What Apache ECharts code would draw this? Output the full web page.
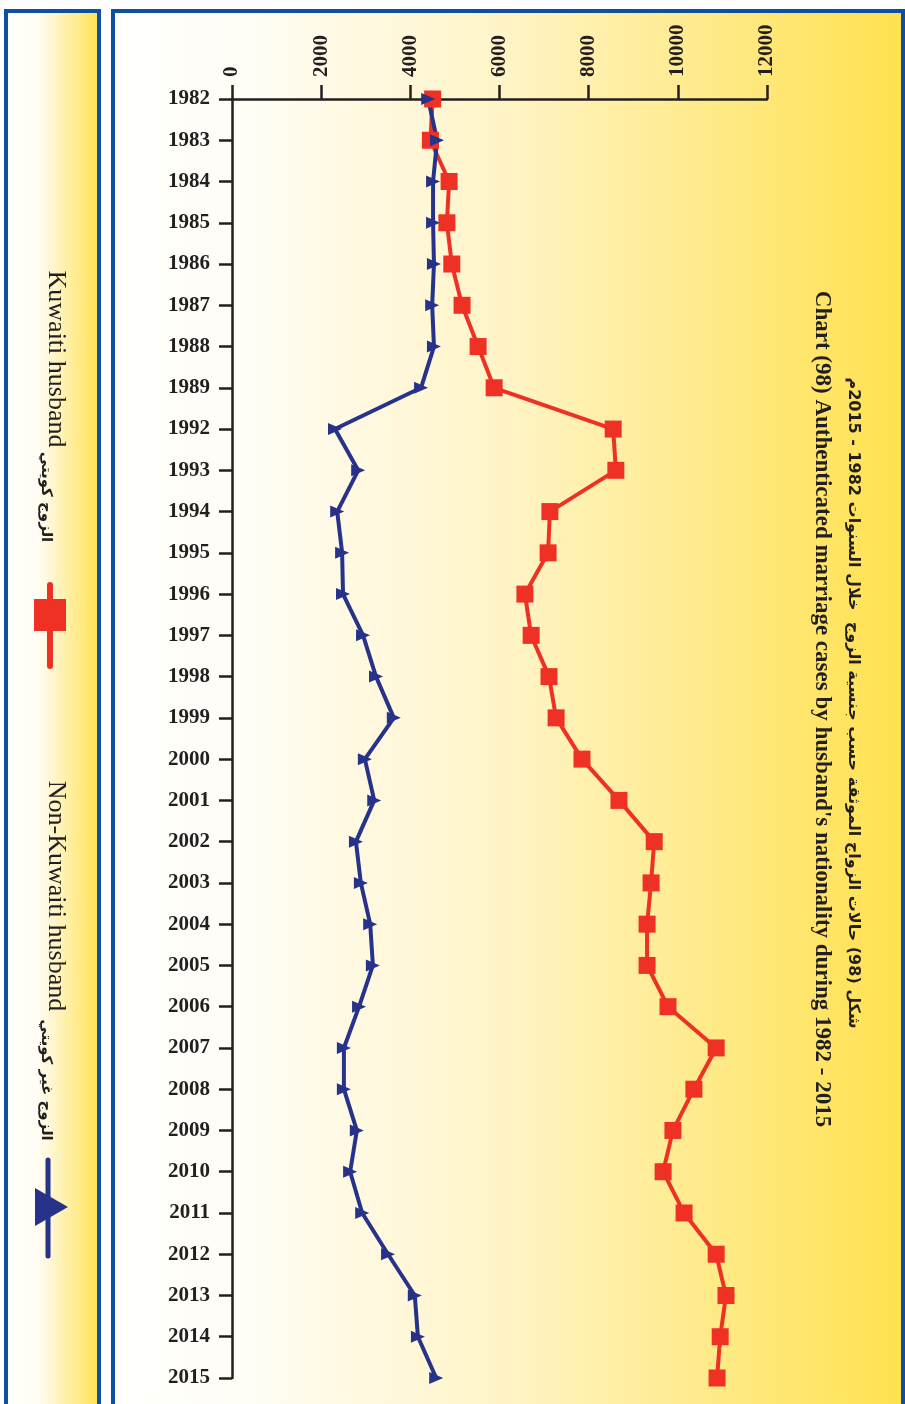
<!DOCTYPE html>
<html>
<head>
<meta charset="utf-8">
<script src="https://cdn.jsdelivr.net/npm/echarts@6/dist/echarts.min.js"></script>
<style>
  html, body { margin: 0; padding: 0; background: #fff; }
  #chart { width: 905px; height: 1404px; }
</style>
</head>
<body>
<div id="chart"></div>
<script>
// years (1990 and 1991 are missing in the source)
const years = ['1982', '1983', '1984', '1985', '1986', '1987', '1988', '1989',
  '1992', '1993', '1994', '1995', '1996', '1997', '1998', '1999', '2000',
  '2001', '2002', '2003', '2004', '2005', '2006', '2007', '2008', '2009',
  '2010', '2011', '2012', '2013', '2014', '2015'];

// Kuwaiti husband
const kuwaiti = [4500, 4450, 4870, 4820, 4930, 5160, 5520, 5880,
  8550, 8610, 7130, 7090, 6570, 6710, 7110, 7270, 7850,
  8680, 9470, 9400, 9310, 9310, 9780, 10860, 10360, 9890,
  9670, 10140, 10860, 11080, 10950, 10880];

// Non-Kuwaiti husband
const nonKuwaiti = [4400, 4600, 4510, 4510, 4530, 4490, 4530, 4240,
  2310, 2830, 2360, 2470, 2490, 2940, 3230, 3630, 2980,
  3190, 2780, 2890, 3100, 3160, 2850, 2510, 2510, 2800,
  2650, 2920, 3500, 4100, 4170, 4580];

const titleEn = "Chart (98) Authenticated marriage cases by husband's nationality during 1982 - 2015";
const titleAr = 'شكل (98) حالات الزواج الموثقة حسب جنسية الزوج  خلال السنوات 1982 - 2015م';

const RED = '#ee3124';
const NAVY = '#27338a';
const FRAME = '#0d4fa2';
const INK = '#231f20';
const SERIF = '"Liberation Serif", "DejaVu Serif", serif';

const chart = echarts.init(document.getElementById('chart'));

const yellowGrad = (stops) => new echarts.graphic.LinearGradient(0, 0, 1, 0, stops);

const option = {
  animation: false,
  backgroundColor: '#fff',
  grid: { left: 232, right: 138, top: 99, bottom: 26, outerBoundsMode: 'none' },
  xAxis: {
    type: 'value',
    position: 'top',
    min: 0,
    max: 12000,
    interval: 2000,
    axisLine: { show: true, lineStyle: { color: INK, width: 2.5 } },
    axisTick: { show: true, length: 14, lineStyle: { color: INK, width: 2.5 } },
    splitLine: { show: false },
    axisLabel: {
      rotate: -90, margin: 22, color: INK,
      fontFamily: SERIF, fontWeight: 'bold', fontSize: 21,
      formatter: (v) => String(v)
    }
  },
  yAxis: {
    type: 'category',
    data: years,
    inverse: true,
    boundaryGap: false,
    axisLine: { show: true, lineStyle: { color: INK, width: 2.5 } },
    axisTick: { show: true, length: 13, interval: 0, lineStyle: { color: INK, width: 2.5 } },
    splitLine: { show: false },
    axisLabel: {
      interval: 0, margin: 22, color: INK,
      fontFamily: SERIF, fontWeight: 'bold', fontSize: 21
    }
  },
  series: [
    {
      name: 'Kuwaiti husband',
      type: 'line',
      data: kuwaiti,
      symbol: 'rect',
      symbolSize: 17,
      showAllSymbol: true,
      lineStyle: { color: RED, width: 4 },
      itemStyle: { color: RED }
    },
    {
      name: 'Non-Kuwaiti husband',
      type: 'line',
      data: nonKuwaiti,
      symbol: 'triangle',
      symbolSize: [12, 14],
      symbolRotate: -90,
      showAllSymbol: true,
      lineStyle: { color: NAVY, width: 4 },
      itemStyle: { color: NAVY }
    }
  ],
  graphic: [
    // main panel
    {
      type: 'rect', z: -10, silent: true,
      shape: { x: 113, y: 11, width: 790, height: 1420 },
      style: {
        fill: yellowGrad([
          { offset: 0, color: '#fffffc' },
          { offset: 0.17, color: '#fffdf6' },
          { offset: 0.5, color: '#fff4c6' },
          { offset: 1, color: '#ffe14e' }
        ]),
        stroke: FRAME, lineWidth: 4
      }
    },
    // legend panel
    {
      type: 'rect', z: -10, silent: true,
      shape: { x: 6, y: 11, width: 93, height: 1420 },
      style: {
        fill: yellowGrad([
          { offset: 0, color: '#fffffc' },
          { offset: 0.35, color: '#fffdf4' },
          { offset: 1, color: '#ffe14e' }
        ]),
        stroke: FRAME, lineWidth: 4
      }
    },
    // title
    {
      type: 'text', x: 853, y: 703, rotation: -Math.PI / 2,
      style: {
        text: titleAr, font: 'bold 16px "DejaVu Sans", sans-serif',
        fill: INK, textAlign: 'center', textVerticalAlign: 'middle'
      }
    },
    {
      type: 'text', x: 822, y: 709, rotation: -Math.PI / 2,
      style: {
        text: titleEn, font: 'bold 23px ' + SERIF,
        fill: INK, textAlign: 'center', textVerticalAlign: 'middle'
      }
    },
    // legend: Kuwaiti husband
    {
      type: 'text', x: 56, y: 359, rotation: -Math.PI / 2,
      style: {
        text: 'Kuwaiti husband', font: '26px ' + SERIF,
        fill: INK, textAlign: 'center', textVerticalAlign: 'middle'
      }
    },
    {
      type: 'text', x: 46, y: 497, rotation: -Math.PI / 2,
      style: {
        text: 'الزوج كويتي', font: 'bold 15px "DejaVu Sans", sans-serif',
        fill: INK, textAlign: 'center', textVerticalAlign: 'middle'
      }
    },
    {
      type: 'line', shape: { x1: 50, y1: 585, x2: 50, y2: 666 },
      style: { stroke: RED, lineWidth: 6, lineCap: 'round' }
    },
    {
      type: 'rect', shape: { x: 34, y: 599, width: 32, height: 32 },
      style: { fill: RED }
    },
    // legend: Non-Kuwaiti husband
    {
      type: 'text', x: 56, y: 896, rotation: -Math.PI / 2,
      style: {
        text: 'Non-Kuwaiti husband', font: '26px ' + SERIF,
        fill: INK, textAlign: 'center', textVerticalAlign: 'middle'
      }
    },
    {
      type: 'text', x: 46, y: 1080, rotation: -Math.PI / 2,
      style: {
        text: 'الزوج غير كويتي', font: 'bold 15px "DejaVu Sans", sans-serif',
        fill: INK, textAlign: 'center', textVerticalAlign: 'middle'
      }
    },
    {
      type: 'line', shape: { x1: 48, y1: 1160, x2: 48, y2: 1256 },
      style: { stroke: NAVY, lineWidth: 5, lineCap: 'round' }
    },
    {
      type: 'polygon', shape: { points: [[35, 1188], [68, 1207], [35, 1226]] },
      style: { fill: NAVY }
    }
  ]
};

chart.setOption(option);
</script>
</body>
</html>
